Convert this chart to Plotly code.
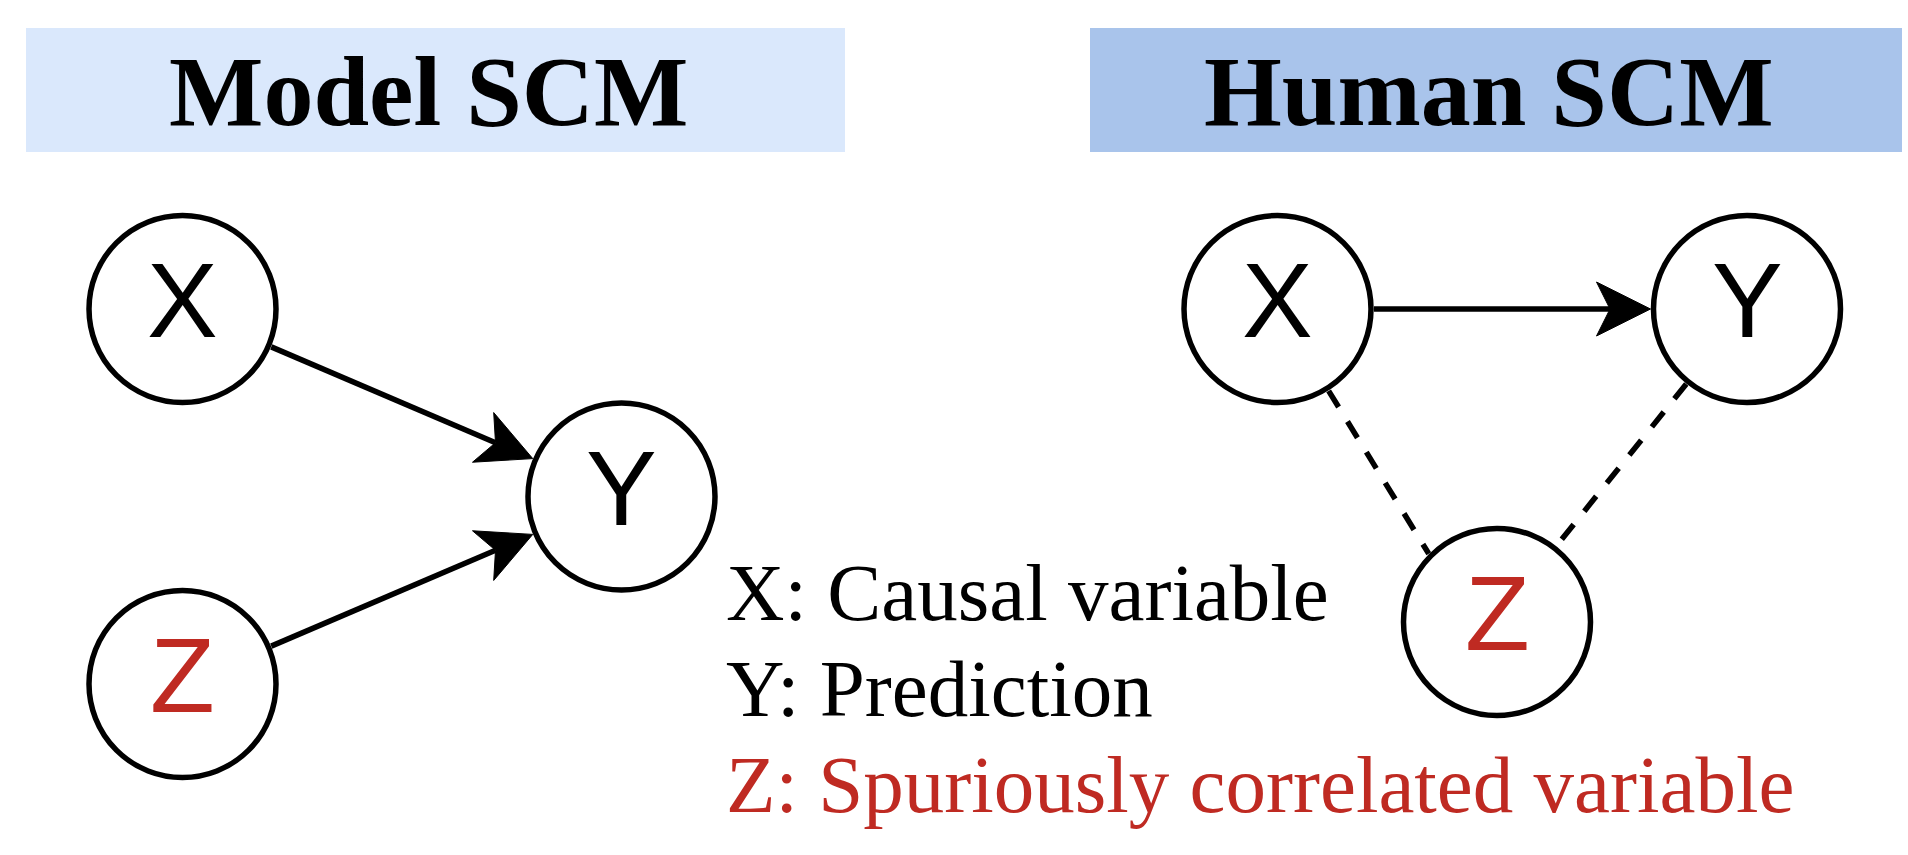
import math
import plotly.graph_objects as go

W, H = 1908, 855
BLACK = "#000000"
RED = "#bf2a22"

# ---- header panels ----
panel_titles = ["Model SCM", "Human SCM"]
panel_x0 = [26, 1090]
panel_x1 = [845, 1902]
panel_y0 = [28, 28]
panel_y1 = [152, 152]
panel_colors = ["#dae8fc", "#a9c4eb"]

# ---- graph nodes ----
node_ids = ["mX", "mY", "mZ", "hX", "hY", "hZ"]
node_labels = ["X", "Y", "Z", "X", "Y", "Z"]
node_x = [182.5, 621.5, 182.5, 1277.5, 1747.0, 1497.0]
node_y = [309.0, 496.5, 684.0, 309.0, 309.0, 622.0]
node_label_colors = [BLACK, BLACK, RED, BLACK, BLACK, RED]

# ---- graph edges ----
edge_src = ["mX", "mZ", "hX", "hX", "hY"]
edge_dst = ["mY", "mY", "hY", "hZ", "hZ"]
edge_kind = ["arrow", "arrow", "arrow", "dashed", "dashed"]
# optional fixed connection angles (degrees, screen coords) for source / target
edge_src_angle = [None, None, None, 58.0, 129.0]
edge_dst_angle = [None, None, None, 225.0, -52.0]

# ---- legend ----
legend_lines = ["X: Causal variable", "Y: Prediction", "Z: Spuriously correlated variable"]
legend_colors = [BLACK, BLACK, RED]

# ---- styling constants ----
R_CIRCLE = 93.5      # radius at stroke centre
R_EDGE = 96.5        # where edges meet the node
STROKE = 5.5
EDGE_W = 5.5
ARROW_LEN = 54
ARROW_HALF = 27
LEGEND_X = 724
LEGEND_Y = [593, 689, 785]
TITLE_DX = -7

pos = {n: (x, y) for n, x, y in zip(node_ids, node_x, node_y)}

fig = go.Figure()
shapes = []
annotations = []

# panels
for t, x0, x1, y0, y1, c in zip(panel_titles, panel_x0, panel_x1, panel_y0, panel_y1, panel_colors):
    shapes.append(dict(type="rect", xref="x", yref="y", x0=x0, x1=x1, y0=y0, y1=y1,
                       fillcolor=c, line=dict(width=0), layer="below"))
    annotations.append(dict(x=(x0 + x1) / 2 + TITLE_DX, y=(y0 + y1) / 2 + 1, xref="x", yref="y",
                            text="<b>%s</b>" % t, showarrow=False,
                            xanchor="center", yanchor="middle",
                            font=dict(family="Liberation Serif, Times New Roman, serif",
                                      size=100, color=BLACK)))

# edges
for s, d, kind, sa, da in zip(edge_src, edge_dst, edge_kind, edge_src_angle, edge_dst_angle):
    sx, sy = pos[s]
    dx, dy = pos[d]
    ang = math.atan2(dy - sy, dx - sx)
    a1 = math.radians(sa) if sa is not None else ang
    a2 = math.radians(da) if da is not None else ang + math.pi
    p1 = (sx + R_EDGE * math.cos(a1), sy + R_EDGE * math.sin(a1))
    p2 = (dx + R_EDGE * math.cos(a2), dy + R_EDGE * math.sin(a2))
    if kind == "arrow":
        ux, uy = p2[0] - p1[0], p2[1] - p1[1]
        L = math.hypot(ux, uy)
        ux, uy = ux / L, uy / L
        nx, ny = -uy, ux
        tip = p2
        w1 = (tip[0] - ARROW_LEN * ux + ARROW_HALF * nx, tip[1] - ARROW_LEN * uy + ARROW_HALF * ny)
        w2 = (tip[0] - ARROW_LEN * ux - ARROW_HALF * nx, tip[1] - ARROW_LEN * uy - ARROW_HALF * ny)
        notch = (tip[0] - 0.75 * ARROW_LEN * ux, tip[1] - 0.75 * ARROW_LEN * uy)
        fig.add_trace(go.Scatter(x=[p1[0], notch[0]], y=[p1[1], notch[1]], mode="lines",
                                 line=dict(color=BLACK, width=EDGE_W), hoverinfo="skip",
                                 showlegend=False))
        path = "M %f %f L %f %f L %f %f L %f %f Z" % (tip[0], tip[1], w1[0], w1[1],
                                                     notch[0], notch[1], w2[0], w2[1])
        shapes.append(dict(type="path", xref="x", yref="y", path=path,
                           fillcolor=BLACK, line=dict(color=BLACK, width=1), layer="above"))
    else:
        fig.add_trace(go.Scatter(x=[p1[0], p2[0]], y=[p1[1], p2[1]], mode="lines",
                                 line=dict(color=BLACK, width=EDGE_W, dash="19px,17px"),
                                 hoverinfo="skip", showlegend=False))

# nodes
for n, lab, col in zip(node_ids, node_labels, node_label_colors):
    x, y = pos[n]
    shapes.append(dict(type="circle", xref="x", yref="y",
                       x0=x - R_CIRCLE, x1=x + R_CIRCLE, y0=y - R_CIRCLE, y1=y + R_CIRCLE,
                       fillcolor="white", line=dict(color=BLACK, width=STROKE), layer="above"))
    annotations.append(dict(x=x, y=y - 9, xref="x", yref="y", text=lab, showarrow=False,
                            xanchor="center", yanchor="middle",
                            font=dict(family="Liberation Sans, Arial, sans-serif",
                                      size=106, color=col)))

# legend text
for txt, col, ly in zip(legend_lines, legend_colors, LEGEND_Y):
    annotations.append(dict(x=LEGEND_X, y=ly, xref="x", yref="y", text=txt, showarrow=False,
                            xanchor="left", yanchor="middle",
                            font=dict(family="Liberation Serif, Times New Roman, serif",
                                      size=81, color=col)))

fig.update_layout(
    width=W, height=H,
    margin=dict(l=0, r=0, t=0, b=0),
    paper_bgcolor="white", plot_bgcolor="white",
    shapes=shapes, annotations=annotations,
    xaxis=dict(range=[0, W], visible=False, fixedrange=True),
    yaxis=dict(range=[H, 0], visible=False, fixedrange=True),
    showlegend=False,
)
fig.write_html("out.html", config={"displayModeBar": False},
               post_script="document.body.style.margin='0px';document.body.style.overflow='hidden';")
